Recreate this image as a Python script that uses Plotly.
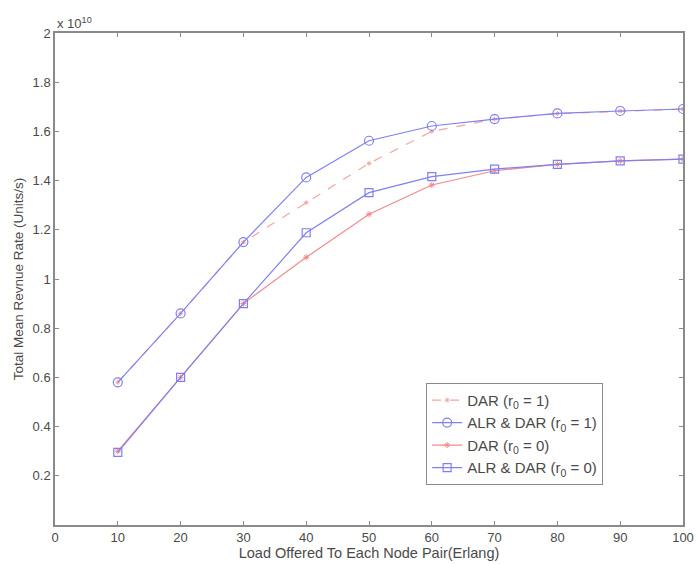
import plotly.graph_objects as go

load = [10, 20, 30, 40, 50, 60, 70, 80, 90, 100]
dar_r1 = [0.58, 0.86, 1.15, 1.31, 1.47, 1.60, 1.65, 1.672, 1.683, 1.691]
alr_r1 = [0.58, 0.86, 1.15, 1.413, 1.562, 1.622, 1.650, 1.673, 1.683, 1.691]
dar_r0 = [0.30, 0.60, 0.90, 1.088, 1.263, 1.382, 1.44, 1.466, 1.480, 1.487]
alr_r0 = [0.295, 0.60, 0.90, 1.188, 1.351, 1.416, 1.447, 1.466, 1.480, 1.487]

x_ticks = [0, 10, 20, 30, 40, 50, 60, 70, 80, 90, 100]
y_ticks = [0.2, 0.4, 0.6, 0.8, 1.0, 1.2, 1.4, 1.6, 1.8, 2.0]
y_ticktext = ["0.2", "0.4", "0.6", "0.8", "1", "1.2", "1.4", "1.6", "1.8", "2"]

BLUE = "#8080f0"
RED = "#f28a8a"
RED_D = "#f0a8a0"
TXT = "#4a4a4a"
FONT = "Liberation Sans, Arial"

fig = go.Figure()
fig.add_trace(go.Scatter(
    x=load, y=dar_r1, mode="lines+markers", name="DAR (r<sub>0</sub> = 1)",
    line=dict(color=RED_D, width=1.2, dash="dash"),
    marker=dict(symbol="asterisk-open", size=4, color=RED_D, line=dict(color=RED_D, width=1)),
    legendrank=1))
fig.add_trace(go.Scatter(
    x=load, y=dar_r0, mode="lines+markers", name="DAR (r<sub>0</sub> = 0)",
    line=dict(color=RED, width=1.2),
    marker=dict(symbol="asterisk-open", size=5, color=RED, line=dict(color=RED, width=1)),
    legendrank=3))
fig.add_trace(go.Scatter(
    x=load, y=alr_r1, mode="lines+markers", name="ALR & DAR (r<sub>0</sub> = 1)",
    line=dict(color=BLUE, width=1.2),
    marker=dict(symbol="circle-open", size=9, color=BLUE, line=dict(color=BLUE, width=1.2)),
    legendrank=2))
fig.add_trace(go.Scatter(
    x=load, y=alr_r0, mode="lines+markers", name="ALR & DAR (r<sub>0</sub> = 0)",
    line=dict(color=BLUE, width=1.2),
    marker=dict(symbol="square-open", size=8, color=BLUE, line=dict(color=BLUE, width=1.2)),
    legendrank=4))

axis_common = dict(
    showline=True, linecolor="#8a8a8a", linewidth=1.5, mirror="allticks",
    ticks="inside", ticklen=4, tickcolor="#8a8a8a", showgrid=False, zeroline=False,
    tickfont=dict(family=FONT, size=13, color=TXT), automargin=False,
)

fig.update_layout(
    width=696, height=564,
    margin=dict(l=55, r=13, t=33, b=39),
    paper_bgcolor="white", plot_bgcolor="white",
    font=dict(family=FONT, size=13, color=TXT),
    xaxis=dict(range=[0, 100], tickvals=x_ticks,
               title=dict(text="Load Offered To Each Node Pair(Erlang)", standoff=2,
                          font=dict(family=FONT, size=14.5, color=TXT)),
               **axis_common),
    yaxis=dict(range=[0, 2], tickvals=y_ticks, ticktext=y_ticktext,
               title=dict(text="Total Mean Revnue Rate (Units/s)", standoff=6,
                          font=dict(family=FONT, size=13.5, color=TXT)),
               **axis_common),
    legend=dict(x=0.591, y=0.289, xanchor="left", yanchor="top",
                bgcolor="white", bordercolor="#8a8a8a", borderwidth=1,
                font=dict(family=FONT, size=15, color=TXT),
                tracegroupgap=0, itemwidth=30),
    showlegend=True,
    annotations=[dict(text="x 10<sup>10</sup>", xref="paper", yref="paper",
                      x=0, y=1, xanchor="left", yanchor="bottom", showarrow=False,
                      font=dict(family=FONT, size=13, color=TXT))],
)

# remove the default page margin so the figure fills the window exactly
fig.write_html("out.html", config={"displayModeBar": False},
               post_script="document.body.style.margin='0';document.body.style.overflow='hidden';")
